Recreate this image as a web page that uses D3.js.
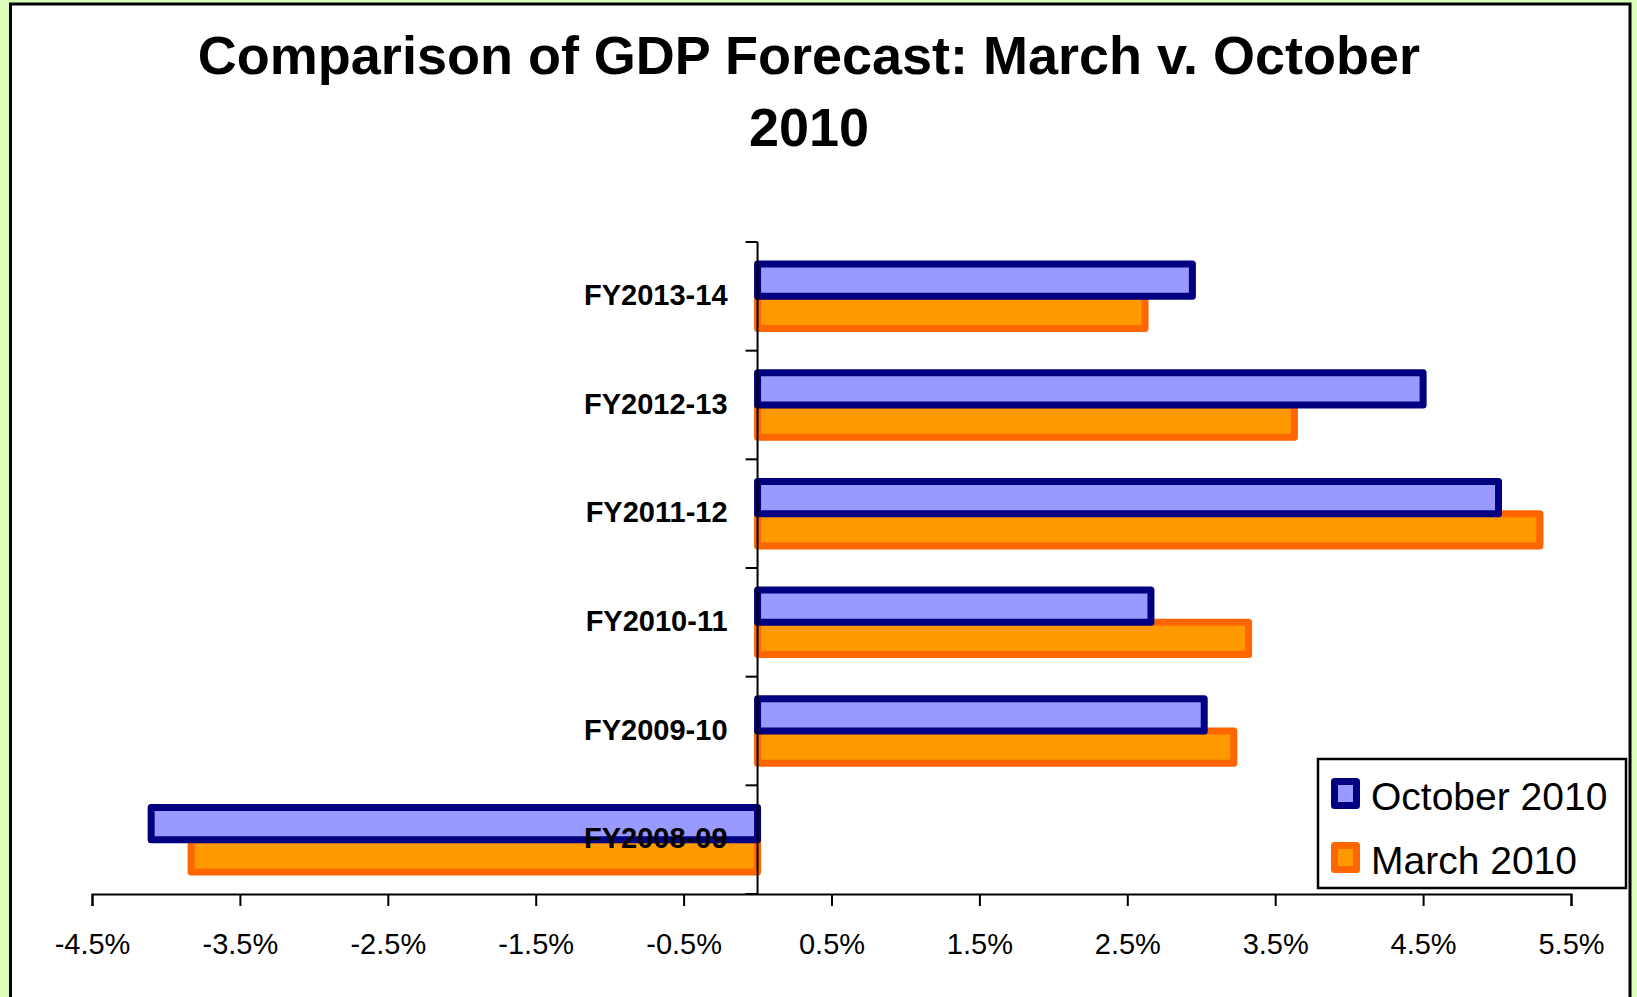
<!DOCTYPE html>
<html>
<head>
<meta charset="utf-8">
<script src="https://cdn.jsdelivr.net/npm/d3@7"></script>
<style>
	body { margin: 0; background: #ddffbb; }
	svg { display: block; }
	text { font-family: "Liberation Sans", Arial, sans-serif; }
</style>
</head>
<body>
<div id="chartDiv"></div>
<script>
; (function () {

	var width = 1637;
	var height = 997;

	var titleLines = ["Comparison of GDP Forecast: March v. October", "2010"];

	// bottom to top, as in the picture
	var categories = ["FY2008-09", "FY2009-10", "FY2010-11", "FY2011-12", "FY2012-13", "FY2013-14"];
	var october2010 = [-4.10, 3.02, 2.66, 5.01, 4.50, 2.94];
	var march2010 = [-3.83, 3.22, 3.32, 5.29, 3.63, 2.62];
	var seriesNames = ["October 2010", "March 2010"];
	var xTicks = [-4.5, -3.5, -2.5, -1.5, -0.5, 0.5, 1.5, 2.5, 3.5, 4.5, 5.5];

	var plot = { left: 92, right: 1571, top: 242, bottom: 894 };
	var seriesStyle = [
		{ fill: "#9999ff", stroke: "#000080" },
		{ fill: "#ff9900", stroke: "#ff6600" }
	];

	var svg = d3.select("#chartDiv").append("svg")
		.attr("width", width)
		.attr("height", height);

	// white chart area with black frame (bottom edge runs off the page)
	svg.append("rect")
		.attr("x", 10.5)
		.attr("y", 4)
		.attr("width", 1619.5)
		.attr("height", 1100)
		.attr("fill", "#fff")
		.attr("stroke", "#000")
		.attr("stroke-width", 3);

	svg.selectAll(".title")
		.data(titleLines)
		.enter().append("text")
		.attr("class", "title")
		.attr("x", 809)
		.attr("y", function (d, i) { return 74 + i * 72; })
		.attr("text-anchor", "middle")
		.style("font-size", "54px")
		.style("font-weight", "bold")
		.text(function (d) { return d; });

	var xScale = d3.scaleLinear()
		.domain([-4.5, 5.5])
		.range([plot.left, plot.right]);

	var yScale = d3.scaleBand()
		.domain(categories.slice().reverse())
		.range([plot.top, plot.bottom]);

	var bw = yScale.bandwidth();
	var barH = bw * 0.297;

	var rows = categories.map(function (c, i) {
		return { cat: c, values: [october2010[i], march2010[i]] };
	});

	// March drawn first so October sits on top of it
	[1, 0].forEach(function (s) {
		svg.append("g").selectAll("rect")
			.data(rows)
			.enter().append("rect")
			.attr("x", function (d) { return xScale(Math.min(0, d.values[s])); })
			.attr("width", function (d) { return Math.abs(xScale(d.values[s]) - xScale(0)); })
			.attr("y", function (d) {
				var mid = yScale(d.cat) + bw / 2;
				return s === 0 ? mid - barH : mid;
			})
			.attr("height", barH)
			.attr("fill", seriesStyle[s].fill)
			.attr("stroke", seriesStyle[s].stroke)
			.attr("stroke-width", 7)
			.attr("stroke-linejoin", "round");
	});

	// x axis
	var xAxis = d3.axisBottom(xScale)
		.tickValues(xTicks)
		.tickSize(12)
		.tickSizeOuter(12)
		.tickPadding(27)
		.tickFormat(function (d) { return d.toFixed(1) + "%"; });

	var xg = svg.append("g")
		.attr("transform", "translate(0," + plot.bottom + ")")
		.call(xAxis);
	xg.selectAll("path, line").attr("stroke", "#000").attr("stroke-width", 2);
	xg.selectAll("text")
		.attr("fill", "#000")
		.style("font-size", "29px")
		.style("font-family", "'Liberation Sans', Arial, sans-serif");

	// y axis: line at zero, ticks at band edges, labels next to axis
	var x0 = xScale(0);
	svg.append("line")
		.attr("x1", x0).attr("x2", x0)
		.attr("y1", plot.top).attr("y2", plot.bottom)
		.attr("stroke", "#000")
		.attr("stroke-width", 2);

	var edges = yScale.domain().map(function (c) { return yScale(c); }).concat([plot.bottom]);
	svg.selectAll(".ytick")
		.data(edges)
		.enter().append("line")
		.attr("class", "ytick")
		.attr("x1", x0 - 12).attr("x2", x0)
		.attr("y1", function (d) { return d; })
		.attr("y2", function (d) { return d; })
		.attr("stroke", "#000")
		.attr("stroke-width", 2);

	svg.selectAll(".ylabel")
		.data(categories)
		.enter().append("text")
		.attr("class", "ylabel")
		.attr("x", x0 - 30)
		.attr("y", function (d) { return yScale(d) + bw / 2; })
		.attr("dy", "0.3em")
		.attr("text-anchor", "end")
		.style("font-size", "29px")
		.style("font-weight", "bold")
		.text(function (d) { return d; });

	// legend
	var legend = svg.append("g");
	legend.append("rect")
		.attr("x", 1318)
		.attr("y", 759)
		.attr("width", 308)
		.attr("height", 129)
		.attr("fill", "#fff")
		.attr("stroke", "#000")
		.attr("stroke-width", 2.5);

	var items = legend.selectAll(".item")
		.data(seriesNames)
		.enter().append("g")
		.attr("class", "item")
		.attr("transform", function (d, i) { return "translate(1331," + (778 + i * 64) + ")"; });

	items.append("rect")
		.attr("x", 3.5).attr("y", 3.5)
		.attr("width", 22).attr("height", 24)
		.attr("fill", function (d, i) { return seriesStyle[i].fill; })
		.attr("stroke", function (d, i) { return seriesStyle[i].stroke; })
		.attr("stroke-width", 7)
		.attr("stroke-linejoin", "round");

	items.append("text")
		.attr("x", 40)
		.attr("y", 32)
		.style("font-size", "39px")
		.text(function (d) { return d; });

})();
</script>
</body>
</html>
